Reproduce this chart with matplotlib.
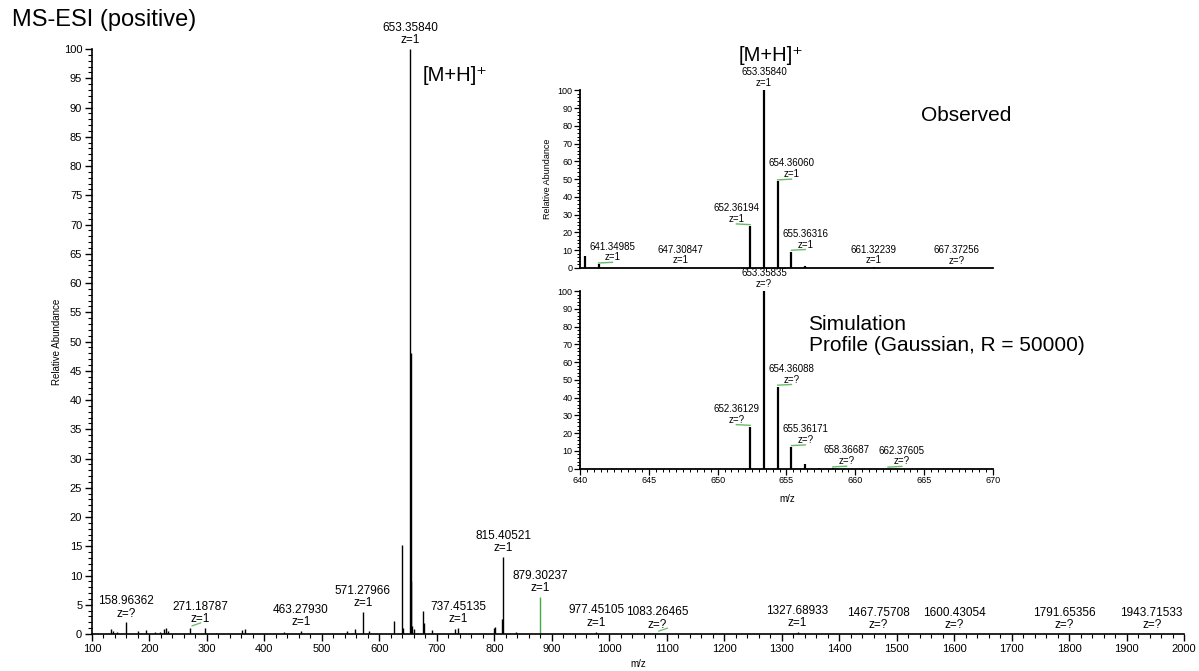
import numpy as np
import matplotlib.pyplot as plt
from matplotlib.ticker import MultipleLocator

plt.rcParams['font.family'] = ['Liberation Sans', 'DejaVu Sans']

# full scan spectrum (m/z, relative abundance)
main_mz = [132.4, 136.9, 142.8, 158.96362, 180.2, 194.7, 209.0, 217.7, 226.0, 228.5, 231.6,
           271.18787, 297.4, 316.0, 361.0, 365.5, 434.0, 463.27930, 543.7, 558.3,
           571.27966, 582.5, 625.8, 639.6, 641.9, 653.35840, 654.36060,
           655.36316, 656.36, 660.9, 675.3, 677.0, 690.9, 732.0, 737.45135, 799.5,
           801.0, 813.3, 815.40521, 837.0, 977.45105, 1083.26465, 1327.68933,
           1467.75708, 1600.43054, 1791.65356, 1943.71533]
main_int = [0.8, 0.5, 0.3, 2.0, 0.5, 0.7, 0.4, 0.4, 0.9, 1.1, 0.6,
            1.0, 1.0, 0.2, 0.7, 0.9, 0.3, 0.5, 0.6, 0.9,
            3.8, 0.5, 2.3, 15.2, 1.1, 100.0, 48.0,
            9.1, 1.3, 0.8, 4.0, 1.8, 0.7, 0.8, 1.0, 1.0,
            1.2, 2.5, 13.2, 0.4, 0.4, 0.1, 0.3,
            0.05, 0.05, 0.05, 0.05]
# centroid only (drawn green)
green_mz = [879.30237]
green_int = [6.3]

main_labels = [158.96362, 271.18787, 463.27930, 571.27966, 653.35840, 737.45135,
               815.40521, 879.30237, 977.45105, 1083.26465, 1327.68933, 1467.75708,
               1600.43054, 1791.65356, 1943.71533]
main_z = ['?', '1', '1', '1', '1', '1', '1', '1', '1', '?', '1', '?', '?', '?', '?']

# zoomed isotope pattern: observed
obs_mz = [640.35, 641.34985, 647.30847, 652.36194, 653.35840, 654.36060, 655.36316,
          656.36, 661.32239, 667.37256]
obs_int = [6.8, 2.0, 0.3, 23.6, 100.0, 48.8, 9.2, 1.3, 0.3, 0.2]
obs_z = [None, '1', '1', '1', '1', '1', '1', None, '1', '?']

# simulated isotope pattern
sim_mz = [652.36129, 653.35835, 654.36088, 655.36171, 656.3633, 657.365, 658.36687, 662.37605]
sim_int = [23.6, 100.0, 46.2, 12.2, 2.8, 0.5, 0.2, 0.1]
sim_z = ['?', '?', '?', '?', None, None, '?', '?']

# which side the label sits (in m/z units) for the insets
obs_side = [0, 1, 0, -1, 0, 1, 1, 0, 0, 0]
sim_side = [-1, 0, 1, 1, 0, 0, 1, 1]

GREEN = '#66bb66'

fig = plt.figure(figsize=(11.99, 6.71), dpi=100)

# ---- main spectrum ----
ax = fig.add_axes([0.0767, 0.0551, 0.9108, 0.8718])
ax.vlines(main_mz, 0, main_int, color='black', lw=1.0)
ax.vlines(green_mz, 0, green_int, color='#44aa44', lw=1.0)
ax.set_xlim(100, 2000)
ax.set_ylim(0, 100)
for s in ['top', 'right']:
    ax.spines[s].set_visible(False)
for s in ['left', 'bottom']:
    ax.spines[s].set_linewidth(1.2)
ax.xaxis.set_major_locator(MultipleLocator(100))
ax.xaxis.set_minor_locator(MultipleLocator(20))
ax.yaxis.set_major_locator(MultipleLocator(5))
ax.yaxis.set_minor_locator(MultipleLocator(1))
ax.tick_params(which='major', length=5, width=1.0, labelsize=8, pad=2)
ax.tick_params(which='minor', length=3, width=0.8)
ax.set_xlabel('m/z', fontsize=7)
ax.xaxis.set_label_coords(0.5, -0.042)
ax.set_ylabel('Relative Abundance', fontsize=7)
ax.yaxis.set_label_coords(-0.027, 0.5)

heights = dict(zip(main_mz + green_mz, main_int + green_int))
main_shift = {271.18787: 17}
for mz, z in zip(main_labels, main_z):
    h = heights[mz]
    ax.annotate('%.5f\nz=%s' % (mz, z), xy=(mz + main_shift.get(mz, 0), h),
                xytext=(0, 2), textcoords='offset points', ha='center', va='bottom',
                fontsize=8.5, linespacing=1.05, annotation_clip=False)
for mz in [271.18787, 1083.26465]:
    ax.plot([mz + 3, mz + 18], [heights[mz] + 0.4, heights[mz] + 0.9], color=GREEN, lw=0.9)

ax.text(675, 95.5, '[M+H]\u207a', fontsize=14.5, va='center', ha='left')
fig.text(0.01, 0.97, 'MS-ESI (positive)', fontsize=17, va='center', ha='left')


def draw_inset(a, mz, inten, zs, side):
    a.vlines(mz, 0, inten, color='black', lw=1.6)
    a.set_xlim(640, 670)
    a.set_ylim(0, 100)
    for s in ['top', 'right']:
        a.spines[s].set_visible(False)
    for s in ['left', 'bottom']:
        a.spines[s].set_linewidth(1.3)
    a.yaxis.set_major_locator(MultipleLocator(10))
    a.yaxis.set_minor_locator(MultipleLocator(2))
    a.tick_params(which='major', length=4, width=0.9, labelsize=6.5, pad=1.5)
    a.tick_params(which='minor', length=2.5, width=0.7)
    for m, h, z, sd in zip(mz, inten, zs, side):
        if z is None:
            continue
        a.annotate('%.5f\nz=%s' % (m, z), xy=(m + sd, h), xytext=(0, 1.5),
                   textcoords='offset points', ha='center', va='bottom',
                   fontsize=7, linespacing=1.1, annotation_clip=False)
        if sd != 0:
            a.plot([m, m + sd], [h + 0.8, h + 1.2], color=GREEN, lw=1.0)


# ---- observed inset ----
ax1 = fig.add_axes([0.4837, 0.6006, 0.3445, 0.2648])
draw_inset(ax1, obs_mz, obs_int, obs_z, obs_side)
ax1.tick_params(axis='x', which='both', bottom=False, labelbottom=False)
ax1.set_ylabel('Relative Abundance', fontsize=6.5)
ax1.yaxis.set_label_coords(-0.068, 0.5)
ax1.text(653.9, 119.5, '[M+H]\u207a', fontsize=14.5, ha='center', va='center')
ax1.text(664.8, 86, 'Observed', fontsize=15, ha='left', va='center')

# ---- simulated inset ----
ax2 = fig.add_axes([0.4837, 0.3015, 0.3445, 0.2648])
draw_inset(ax2, sim_mz, sim_int, sim_z, sim_side)
ax2.xaxis.set_major_locator(MultipleLocator(5))
ax2.xaxis.set_minor_locator(MultipleLocator(0.5))
ax2.set_xlabel('m/z', fontsize=7)
ax2.xaxis.set_label_coords(0.503, -0.142)
ax2.text(656.6, 75.2, 'Simulation\nProfile (Gaussian, R = 50000)', fontsize=15,
         ha='left', va='center', linespacing=1.18)

fig.savefig('out.png', dpi=100)
